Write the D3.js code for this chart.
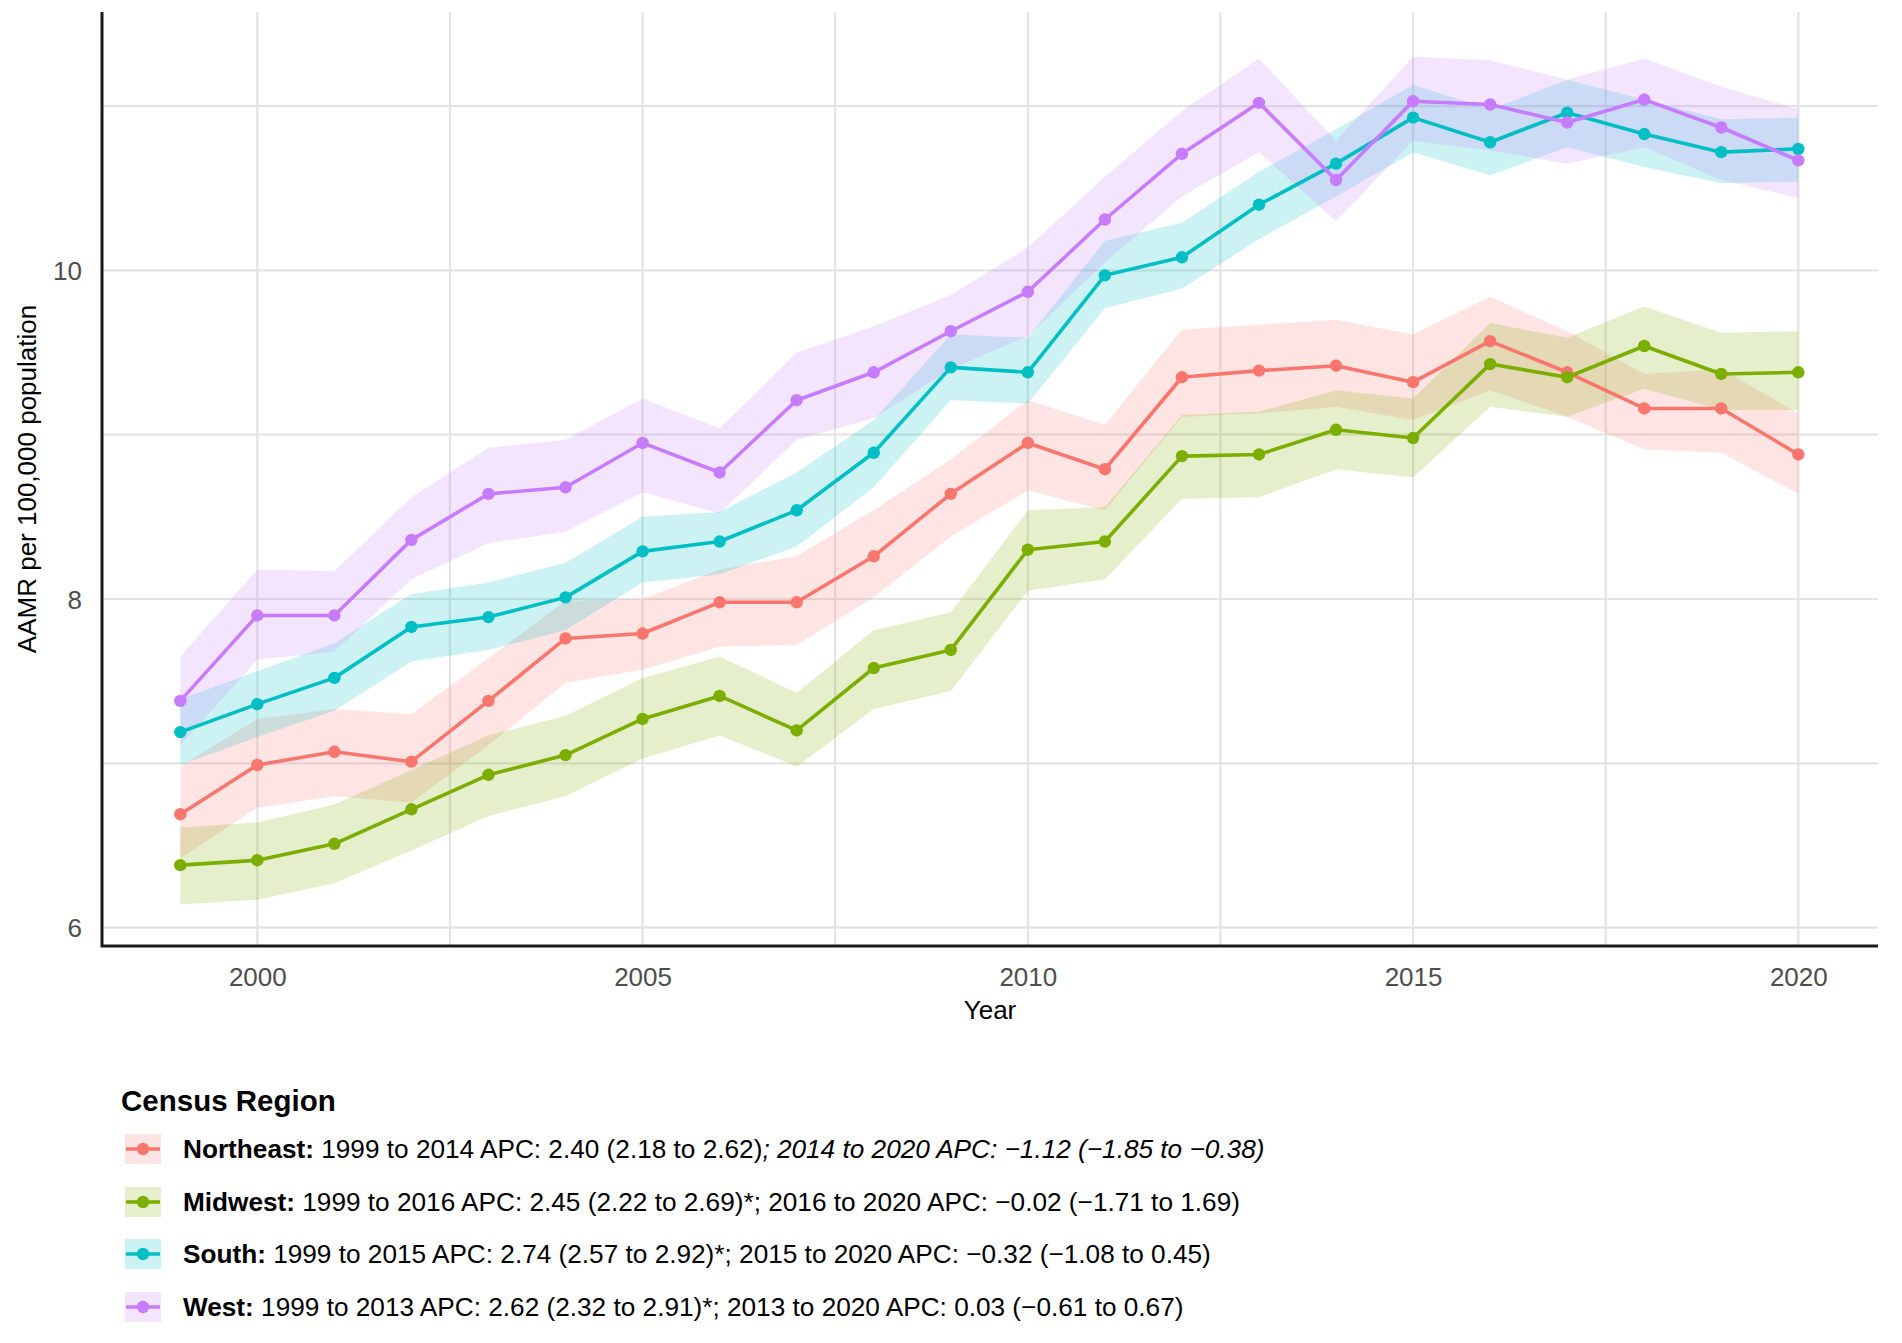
<!DOCTYPE html>
<html>
<head>
<meta charset="utf-8">
<script src="https://cdn.jsdelivr.net/npm/d3@7"></script>
<style>
  html, body { margin: 0; padding: 0; background: #ffffff; }
  svg { display: block; font-family: "Liberation Sans", Arial, Helvetica, sans-serif; }
</style>
</head>
<body>
<svg id="chart" width="1902" height="1343"></svg>
<script>
// ---------------- data ----------------
const years = [1999,2000,2001,2002,2003,2004,2005,2006,2007,2008,2009,2010,2011,2012,2013,2014,2015,2016,2017,2018,2019,2020];

const regions = ["Northeast", "Midwest", "South", "West"];
const colors  = ["#F8766D", "#7CAE00", "#00BFC4", "#C77CFF"];

const northeast      = [6.69,6.99,7.07,7.01,7.38,7.76,7.79,7.98,7.98,8.26,8.64,8.95,8.79,9.35,9.39,9.42,9.32,9.57,9.38,9.16,9.16,8.88];
const northeastLower = [6.42,6.73,6.80,6.76,7.11,7.49,7.57,7.71,7.72,8.01,8.38,8.66,8.54,9.11,9.13,9.17,9.09,9.27,9.11,8.91,8.89,8.64];
const northeastUpper = [6.98,7.27,7.33,7.30,7.64,7.99,8.00,8.18,8.26,8.54,8.85,9.21,9.06,9.64,9.67,9.70,9.61,9.84,9.63,9.37,9.40,9.13];

const midwest      = [6.38,6.41,6.51,6.72,6.93,7.05,7.27,7.41,7.20,7.58,7.69,8.30,8.35,8.87,8.88,9.03,8.98,9.43,9.35,9.54,9.37,9.38];
const midwestLower = [6.14,6.17,6.27,6.47,6.68,6.80,7.03,7.17,6.98,7.33,7.44,8.05,8.12,8.61,8.62,8.79,8.74,9.17,9.11,9.28,9.15,9.15];
const midwestUpper = [6.61,6.64,6.75,6.96,7.17,7.29,7.52,7.65,7.43,7.81,7.92,8.54,8.56,9.12,9.14,9.27,9.22,9.68,9.59,9.78,9.62,9.63];

const south      = [7.19,7.36,7.52,7.83,7.89,8.01,8.29,8.35,8.54,8.89,9.41,9.38,9.97,10.08,10.40,10.65,10.93,10.78,10.96,10.83,10.72,10.74];
const southLower = [6.99,7.16,7.32,7.62,7.69,7.81,8.10,8.15,8.32,8.68,9.21,9.19,9.77,9.89,10.19,10.45,10.72,10.58,10.75,10.63,10.53,10.54];
const southUpper = [7.39,7.56,7.73,8.03,8.10,8.22,8.50,8.53,8.77,9.09,9.61,9.59,10.18,10.29,10.60,10.86,11.13,10.98,11.16,11.04,10.92,10.93];

const west      = [7.38,7.90,7.90,8.36,8.64,8.68,8.95,8.77,9.21,9.38,9.63,9.87,10.31,10.71,11.02,10.55,11.03,11.01,10.90,11.04,10.87,10.67];
const westLower = [7.11,7.63,7.68,8.12,8.34,8.41,8.65,8.52,8.97,9.10,9.40,9.60,10.05,10.45,10.72,10.30,10.79,10.73,10.65,10.75,10.55,10.44];
const westUpper = [7.65,8.18,8.17,8.62,8.92,8.97,9.22,9.04,9.50,9.66,9.85,10.14,10.57,10.97,11.29,10.79,11.30,11.28,11.16,11.29,11.12,10.98];

const xTicks = [2000, 2005, 2010, 2015, 2020];
const xMinor = [2002.5, 2007.5, 2012.5, 2017.5];
const yTicks = [6, 8, 10];
const yMinor = [7, 9, 11];

const xTitle = "Year";
const yTitle = "AAMR per 100,000 population";
const legendTitle = "Census Region";
const legendNames = ["Northeast:", "Midwest:", "South:", "West:"];
const legendFirst = [
  " 1999 to 2014 APC: 2.40 (2.18 to 2.62)",
  " 1999 to 2016 APC: 2.45 (2.22 to 2.69)*; 2016 to 2020 APC: \u22120.02 (\u22121.71 to 1.69)",
  " 1999 to 2015 APC: 2.74 (2.57 to 2.92)*; 2015 to 2020 APC: \u22120.32 (\u22121.08 to 0.45)",
  " 1999 to 2013 APC: 2.62 (2.32 to 2.91)*; 2013 to 2020 APC: 0.03 (\u22120.61 to 0.67)"
];
const legendItalic = [
  "; 2014 to 2020 APC: \u22121.12 (\u22121.85 to \u22120.38)",
  "", "", ""
];

// ---------------- build series ----------------
const valueSets = [northeast, midwest, south, west];
const lowerSets = [northeastLower, midwestLower, southLower, westLower];
const upperSets = [northeastUpper, midwestUpper, southUpper, westUpper];
const series = regions.map((r, i) => ({
  name: r, color: colors[i],
  pts: years.map((y, j) => ({ year: y, v: valueSets[i][j], lo: lowerSets[i][j], hi: upperSets[i][j] }))
}));

// ---------------- layout ----------------
const svg = d3.select("#chart");
const panel = { left: 102, right: 1878, top: 12, bottom: 946 };

const x = d3.scaleLinear().domain([1997.984, 2021.034]).range([panel.left, panel.right]);
const y = d3.scaleLinear().domain([5.888, 11.573]).range([panel.bottom, panel.top]);

// gridlines
const grid = svg.append("g");
grid.selectAll("line.h").data(yMinor.concat(yTicks)).enter().append("line")
  .attr("x1", panel.left).attr("x2", panel.right)
  .attr("y1", d => y(d)).attr("y2", d => y(d))
  .attr("stroke", "#e4e4e4").attr("stroke-width", 2.2);
grid.selectAll("line.v").data(xMinor.concat(xTicks)).enter().append("line")
  .attr("y1", panel.top).attr("y2", panel.bottom)
  .attr("x1", d => x(d)).attr("x2", d => x(d))
  .attr("stroke", "#e4e4e4").attr("stroke-width", 2.2);

// ribbons
const area = d3.area().x(d => x(d.year)).y0(d => y(d.lo)).y1(d => y(d.hi));
svg.append("g").selectAll("path").data(series).enter().append("path")
  .attr("d", d => area(d.pts))
  .attr("fill", d => d.color).attr("fill-opacity", 0.2).attr("stroke", "none");

// lines
const line = d3.line().x(d => x(d.year)).y(d => y(d.v));
svg.append("g").selectAll("path").data(series).enter().append("path")
  .attr("d", d => line(d.pts))
  .attr("fill", "none").attr("stroke", d => d.color).attr("stroke-width", 3.6)
  .attr("stroke-linejoin", "round");

// points
const ptG = svg.append("g");
series.forEach(s => {
  ptG.selectAll(null).data(s.pts).enter().append("circle")
    .attr("cx", d => x(d.year)).attr("cy", d => y(d.v)).attr("r", 6.2)
    .attr("fill", s.color);
});

// axis lines
svg.append("path")
  .attr("d", `M${panel.left},${panel.top} V${panel.bottom} H${panel.right}`)
  .attr("fill", "none").attr("stroke", "#1a1a1a").attr("stroke-width", 3);

// tick labels via d3 axes (no tick marks / domain)
const xAxis = d3.axisBottom(x).tickValues(xTicks).tickFormat(d3.format("d")).tickSize(0).tickPadding(0);
const gx = svg.append("g").attr("transform", `translate(0,${panel.bottom})`).call(xAxis);
gx.select(".domain").remove();
gx.selectAll("text").attr("y", 31).attr("dy", "0.35em")
  .attr("font-size", 26).attr("fill", "#4d4d4d")
  .attr("font-family", "'Liberation Sans', Arial, sans-serif");

const yAxis = d3.axisLeft(y).tickValues(yTicks).tickFormat(d3.format("d")).tickSize(0).tickPadding(0);
const gy = svg.append("g").attr("transform", `translate(${panel.left},0)`).call(yAxis);
gy.select(".domain").remove();
gy.selectAll("text").attr("x", -20).attr("dy", "0.35em")
  .attr("font-size", 26).attr("fill", "#4d4d4d")
  .attr("font-family", "'Liberation Sans', Arial, sans-serif");

// axis titles
svg.append("text").text(xTitle)
  .attr("x", (panel.left + panel.right) / 2).attr("y", 1010).attr("dy", "0.35em")
  .attr("text-anchor", "middle").attr("font-size", 26).attr("fill", "#000");
svg.append("text").text(yTitle)
  .attr("transform", `translate(27,${(panel.top + panel.bottom) / 2}) rotate(-90)`)
  .attr("dy", "0.35em").attr("text-anchor", "middle").attr("font-size", 26).attr("fill", "#000");

// legend
svg.append("text").text(legendTitle)
  .attr("x", 121).attr("y", 1101).attr("dy", "0.35em")
  .attr("font-size", 29.5).attr("font-weight", "bold").attr("fill", "#000");

const rowY = [1149, 1202, 1254, 1307];
const lg = svg.append("g");
series.forEach((s, i) => {
  const cy = rowY[i];
  lg.append("rect").attr("x", 125).attr("y", cy - 15).attr("width", 36).attr("height", 30)
    .attr("fill", s.color).attr("fill-opacity", 0.2);
  lg.append("line").attr("x1", 126).attr("x2", 160).attr("y1", cy).attr("y2", cy)
    .attr("stroke", s.color).attr("stroke-width", 3.6);
  lg.append("circle").attr("cx", 143).attr("cy", cy).attr("r", 6.2).attr("fill", s.color);
  const t = lg.append("text").attr("x", 183).attr("y", cy).attr("dy", "0.35em")
    .attr("font-size", 26.2).attr("fill", "#000");
  t.append("tspan").attr("font-weight", "bold").text(legendNames[i]);
  t.append("tspan").text(legendFirst[i]);
  if (legendItalic[i]) t.append("tspan").attr("font-style", "italic").text(legendItalic[i]);
});
</script>
</body>
</html>
